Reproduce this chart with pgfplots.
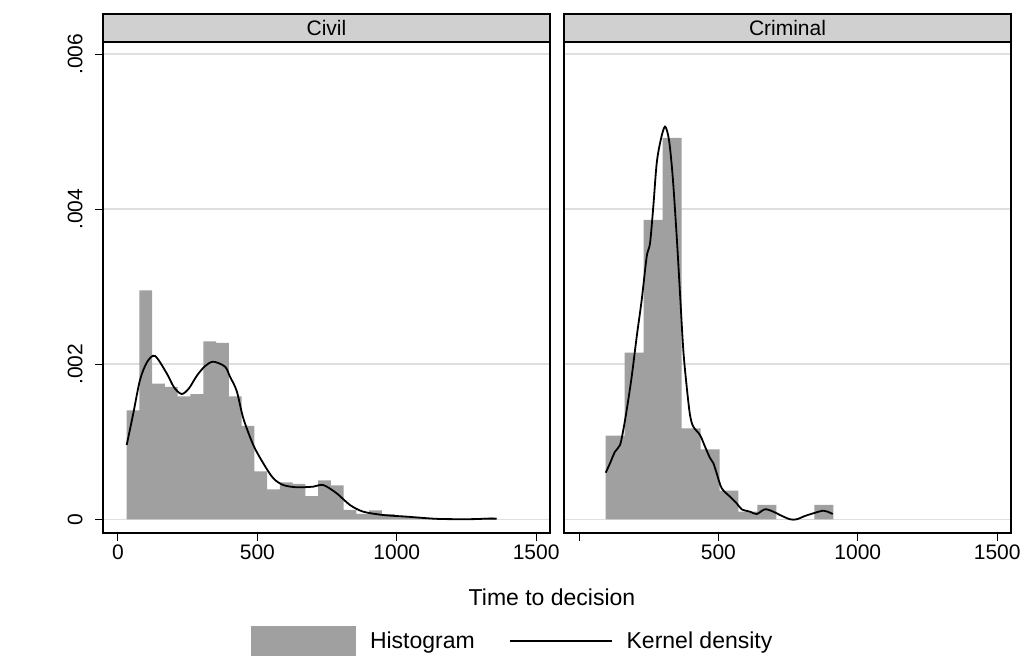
\documentclass[border=0pt]{standalone}
\usepackage{fontspec}
\setmainfont{Liberation Sans}
\usepackage{pgfplots}
\pgfplotsset{compat=1.18}
\definecolor{histgray}{RGB}{160,160,160}
\definecolor{gridgray}{RGB}{223,223,223}
\definecolor{stripgray}{RGB}{208,208,208}

\pgfplotstableread{
x y
31.2 0.001406
76.97 0.002954
122.74 0.00175
168.51 0.001707
214.28 0.001587
260.05 0.001613
305.82 0.002296
351.59 0.002275
397.36 0.001587
443.13 0.001204
488.9 0.000619
534.67 0.000387
580.44 0.000477
626.21 0.000458
671.98 0.0003
717.75 0.000503
763.52 0.000439
809.29 0.000123
855.06 0.000071
900.83 0.000116
946.6 0.000065
992.37 0.00003
1038.14 0.000026
1083.91 0.000013
1129.68 0.000013
1175.45 0.000006
1221.22 0.000006
1266.99 0.0
1312.76 0.00002
1358.53 0.00002
}\civilhist

\pgfplotstableread{
x y
31.2 0.000958
54.9 0.001367
78.9 0.001797
104 0.002026
132.7 0.002107
174.7 0.001883
200.9 0.001703
228.5 0.001616
254.7 0.00169
282.3 0.001849
312 0.001975
341.8 0.002033
383.8 0.001969
401.7 0.00184
425.8 0.001655
449.5 0.001303
485.3 0.000958
521.2 0.000722
557 0.000529
592.9 0.000442
641 0.000413
700.5 0.000421
736.4 0.000442
784.5 0.000335
832.2 0.000184
879.9 0.000098
951.6 0.000055
1035.6 0.000034
1131 0.000008
1190.9 0.000002
1274.5 0.000002
1322.5 0.000008
1358.4 0.000008
}\civilkde

\pgfplotstableread{
x y
95.8 0.001079
163.84 0.00215
231.88 0.003862
299.92 0.00492
367.96 0.001174
436.0 0.000903
504.04 0.000369
572.08 0.000098
640.12 0.000185
708.16 0.0
776.2 0.0
844.24 0.000185
912.28 0.000185
}\crimhist

\pgfplotstableread{
x y
95.8 0.000601
111.2 0.000722
129.1 0.000872
147.1 0.000958
158.9 0.001152
171.1 0.00141
189 0.00184
207 0.002356
224.9 0.002829
242.8 0.003388
254.7 0.00356
266.5 0.004033
278.7 0.004592
293.1 0.004893
308.5 0.005065
322.8 0.004893
336.1 0.00442
350.5 0.003646
362.3 0.002915
374.1 0.002184
386.3 0.001711
398.2 0.001345
410 0.001195
434 0.001087
452 0.000937
469.9 0.000791
481.7 0.000726
493.9 0.000593
511.9 0.0004
541.6 0.000292
565.7 0.000206
583.6 0.000129
613.4 0.000098
637.4 0.000068
667.2 0.000129
697 0.000098
721 0.000055
756.9 0.0
780.9 0.0
810.6 0.000043
840.4 0.000077
876.3 0.000111
900.3 0.000085
910 0.000068
}\crimkde

\pgfplotsset{
  panel/.style={
    width=447bp, height=491bp, scale only axis,
    xmin=-53.8, xmax=1549.6, ymin=-0.000177, ymax=0.006157,
    axis line style={black, line width=1.1bp},
    tick align=outside, major tick length=8bp,
    tick style={black, line width=1bp},
    tick pos=left,
    ytick={0,0.002,0.004,0.006},
    ymajorgrids, grid style={gridgray, line width=1.5bp},
    scaled y ticks=false,
    ticklabel style={font=\fontsize{21bp}{25bp}\selectfont},
    /pgf/number format/assume math mode=true,
    title style={at={(0.5,1)}, anchor=south, draw=black, line width=1.1bp,
      fill=stripgray, minimum width=447bp, minimum height=28bp,
      inner sep=0pt, yshift=-6.55bp, font=\fontsize{21bp}{25bp}\selectfont},
  },
}

\begin{document}
\begin{tikzpicture}
\useasboundingbox (0,0) rectangle (1031bp,-662bp);
\begin{axis}[panel,
  at={(103bp,-533bp)}, anchor=south west,
  title={Civil},
  xtick={0,500,1000,1500}, xticklabels={0,500,1000,1500},
  yticklabels={0,.002,.004,.006},
  yticklabel style={rotate=90, anchor=south, yshift=9bp},
  legend columns=2,
  legend style={at={(0.93,-0.22)}, anchor=center, draw=none, fill=none,
    font=\fontsize{23bp}{27bp}\selectfont,
    /tikz/every even column/.append style={column sep=20bp},
    nodes={inner xsep=14bp}},
]
\addplot[ybar interval, fill=histgray, draw=none,
  legend image code/.code={\fill[histgray] (0bp,-15bp) rectangle (105bp,15bp);}]
  table[x=x,y=y]{\civilhist};
\addlegendentry{Histogram}
\addplot[black, line width=1.8bp, smooth, no markers,
  legend image code/.code={\draw[black, line width=1.8bp] (0bp,0bp) -- (102bp,0bp);}]
  table[x=x,y=y]{\civilkde};
\addlegendentry{Kernel density}
\end{axis}
\begin{axis}[panel,
  at={(564bp,-533bp)}, anchor=south west,
  title={Criminal},
  xtick={0,500,1000,1500}, xticklabels={,500,1000,1500},
  yticklabels={}, y tick style={draw=none},
]
\addplot[ybar interval, fill=histgray, draw=none] table[x=x,y=y]{\crimhist};
\addplot[black, line width=1.8bp, smooth, no markers] table[x=x,y=y]{\crimkde};
\end{axis}
\node[font=\fontsize{23bp}{27bp}\selectfont] at (552bp,-597bp) {Time to decision};
\end{tikzpicture}
\end{document}
